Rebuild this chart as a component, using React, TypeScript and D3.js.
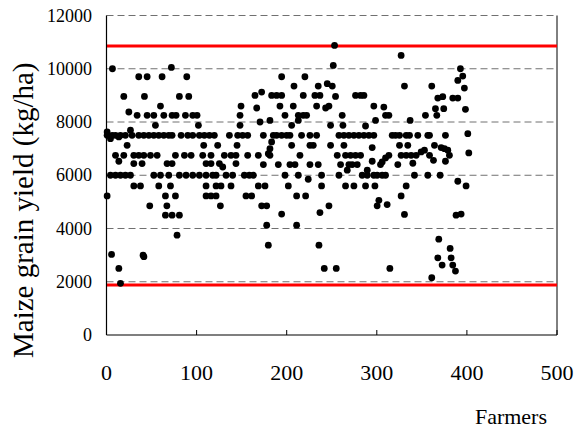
import React from "react";
import * as d3 from "d3";

// Farmer index (x) and maize grain yield in kg/ha (y)
const farmers: number[] = [
  6.6, 35.8, 45.1, 61.7, 72, 19.2, 42.1, 59.9, 24.8, 34, 45.1, 52.5, 63.6, 72.8, 54.3,
  0.7, 4.4, 6.3, 10, 13.7, 15.5, 21, 26.6, 28.4, 35.8, 41.4, 47, 52.5, 58, 63.6, 69.1, 72.8, 0.7,
  22.9, 10, 19.2, 30.3, 35.8, 41.4, 48.8, 56.2, 76.5, 13.7, 30.3, 39.5, 67.2, 72.8,
  4.4, 10, 15.5, 21, 26.6, 52.5, 59.9, 69.1, 30.3, 37.7, 58, 71, 0.7, 65.4, 76.5,
  48, 67, 65.4, 72.8, 78.3, 5.6, 40.6, 41.5, 13.7, 15.5,
  89.1, 80.9, 91.3, 149.3, 77.2, 87.6, 95.7, 100.5, 102, 148.2, 148.2,
  82.8, 90.2, 95.7, 103.1, 108.6, 114.2, 119.7, 136.4, 145.6, 151.1, 156.7,
  107.9, 123.4, 144.9, 86.5, 93.9, 106.8, 116, 130.8, 138.2, 143.7, 156.7,
  110.5, 116, 125.3, 129, 143.7, 80.9, 88.3, 95.7, 103.1, 110.5, 117.9, 121.6, 132.7, 140, 153, 158.5,
  110.5, 121.6, 127.1, 138.2, 110.5, 116, 121.6, 154.8, 126.4, 80.9,
  194.4, 220.2, 208.1, 235, 164.8, 172.2, 183.3, 188.8, 194.4, 218.4, 231.3, 236.9,
  166.7, 192.5, 207.3, 233.2, 198.1, 212.9, 218.4, 222.1, 170.4, 181.4, 205.5, 212.9,
  174.1, 185.1, 188.8, 194.4, 199.9, 203.6, 216.5, 225.8, 233.2,
  183.3, 205.5, 225.8, 229.5, 181.4, 179.6, 168.5, 181.4, 214.7,
  174.1, 190.7, 203.6, 209.2, 225.8, 235, 163, 198.1, 212.9, 223.9, 238.7,
  168.5, 175.9, 201.8, 238.7, 161.1, 211, 221, 172.2, 177.8, 194.4, 236.9, 177.8, 211, 179.6, 235.8, 241.7,
  253.1, 251.7, 245, 250.6, 254.2, 246.9, 243.2, 276.4, 282, 285.7, 296.7, 307.8,
  261.6, 309.7, 313.4, 298.6, 248.7, 262.4, 287.5,
  258, 263.5, 269, 274.6, 280.1, 285.7, 291.2, 296.7, 317.1, 320.8,
  248.7, 263.5, 294.9, 256.1, 265.3, 270.9, 276.4, 282, 313.4, 309.7, 306,
  259.8, 269, 272.7, 278.3, 294.9, 304.1, 267.2, 289.4,
  258, 283.8, 289.4, 296.7, 300.4, 306, 309.7, 265.3, 274.6, 287.5, 297.9,
  246.9, 302.3, 300.4, 311.5, 255, 314.5,
  327, 392.8, 389.9, 395.4, 330.7, 361, 397.2, 367.7, 373.2, 384.3, 389.9,
  365.1, 374.3, 398.4, 354, 366.6, 337,
  325.2, 332.6, 336.3, 345.5, 356.6, 358.5, 376.2, 401,
  325.2, 334.4, 364, 371.4, 375.1, 378.8,
  327, 332.6, 338.1, 343.7, 358.5, 380.6, 349.2, 352.9, 402.1,
  323.3, 340, 362.9, 376.2, 341.8, 356.6, 370.3, 389.9, 399.1, 332.6, 327,
  330.7, 388, 393.6, 368.8, 381.4, 367.7, 372.5, 382.5, 384.3, 387.3, 361,
];

const yields: number[] = [
  10000, 9700, 9700, 9700, 10050, 8960, 8960, 8600, 8375, 8250, 8250, 8250, 8250, 8250, 7875,
  7625, 7375, 7500, 7500, 7440, 7500, 7500, 7690, 7500, 7500, 7500, 7500, 7500, 7500, 7500, 7500, 7500, 7500,
  7125, 6750, 6750, 6750, 6750, 6750, 6750, 6750, 6750, 6525, 6440, 6440, 6440, 6440,
  6000, 6000, 6000, 6000, 6000, 6000, 6000, 6000, 5600, 5600, 5600, 5600, 5225, 5225, 5225,
  4850, 4850, 4500, 4500, 3750, 3025, 3000, 2940, 2500, 1940,
  9700, 8960, 8960, 8600, 8250, 8250, 8250, 8250, 7875, 8250, 7875,
  7500, 7500, 7500, 7500, 7500, 7500, 7500, 7500, 7500, 7500, 7500,
  7125, 7125, 7125, 6750, 6750, 6750, 6750, 6750, 6750, 6750, 6750,
  6440, 6440, 6440, 6310, 6440, 6000, 6000, 6000, 6000, 6000, 6000, 6000, 6000, 6000, 6000, 6000,
  5600, 5600, 5600, 5600, 5225, 5225, 5225, 5225, 4850, 4500,
  9700, 9700, 9350, 9350, 9000, 9125, 9000, 9000, 9000, 9000, 9000, 9000,
  8525, 8600, 8600, 8600, 8250, 8250, 8250, 8250, 8000, 8060, 7875, 8060,
  7500, 7500, 7500, 7500, 7500, 7500, 7500, 7500, 7500,
  7250, 7125, 7125, 7125, 7000, 6810, 6750, 6750, 6750,
  6400, 6400, 6400, 6400, 6400, 6400, 6000, 6000, 6000, 5850, 6000,
  5600, 5600, 5600, 5600, 5225, 5225, 5225, 4850, 4850, 4540, 4600, 4125, 4125, 3375, 3375, 2500,
  10875, 10125, 9440, 9350, 8960, 8600, 8525, 9000, 9000, 9000, 8600, 8560,
  8250, 8250, 8250, 8060, 7875, 7875, 7850,
  7500, 7500, 7500, 7500, 7500, 7500, 7500, 7500, 7500, 7500,
  7125, 7125, 7040, 6750, 6750, 6750, 6750, 6750, 6750, 6650, 6500,
  6400, 6400, 6400, 6400, 6525, 6400, 6190, 6190,
  6000, 6000, 6000, 6000, 6000, 6000, 6000, 5600, 5600, 5600, 5600,
  4850, 5060, 4850, 4900, 2500, 2500,
  10500, 10000, 9560, 9725, 9350, 9350, 9275, 8900, 8950, 8900, 8900,
  8500, 8500, 8475, 8250, 8250, 8060,
  7500, 7500, 7500, 7500, 7500, 7500, 7500, 7560,
  7125, 7125, 7125, 7040, 7000, 6940,
  6750, 6750, 6750, 6750, 6750, 6750, 6875, 6940, 6840,
  6400, 6450, 6560, 6525, 6000, 6000, 6000, 5775, 5600, 5600, 5225,
  4530, 4500, 4540, 3600, 3250, 2900, 2625, 2900, 2625, 2400, 2150,
];

const xTicks: number[] = [0, 100, 200, 300, 400, 500];
const yTicks: number[] = [0, 2000, 4000, 6000, 8000, 10000, 12000];
const gridValues: number[] = [2000, 4000, 6000, 8000, 10000, 12000];
const limitLines: number[] = [10850, 1875];

const W = 578;
const H = 429;
const FONT = "'Liberation Serif', 'Times New Roman', serif";

export default function App() {
  const x = d3.scaleLinear().domain([0, 500]).range([106.5, 557]);
  const y = d3.scaleLinear().domain([0, 12000]).range([335, 15.5]);
  const points = farmers.map((f, i) => ({ f, v: yields[i] }));

  return (
    <svg
      width={W}
      height={H}
      style={{ position: "absolute", left: 0, top: 0, background: "#fff" }}
    >
      <defs>
        <clipPath id="titleClip">
          <rect x={0} y={46} width={100} height={380} />
        </clipPath>
      </defs>
      <rect x={0} y={0} width={W} height={H} fill="#fff" />

      {/* gridlines */}
      {gridValues.map((g) => (
        <line
          key={"g" + g}
          x1={x(0)}
          x2={x(500)}
          y1={y(g)}
          y2={y(g)}
          stroke="#707070"
          strokeWidth={1}
          strokeDasharray="7 4"
        />
      ))}

      {/* right border */}
      <line x1={x(500)} x2={x(500)} y1={y(12000)} y2={y(0)} stroke="#000" strokeWidth={1} />

      {/* red limit lines */}
      {limitLines.map((l) => (
        <line
          key={"r" + l}
          x1={x(0)}
          x2={x(500)}
          y1={y(l)}
          y2={y(l)}
          stroke="#ff0000"
          strokeWidth={3}
        />
      ))}

      {/* points */}
      {points.map((p, i) => (
        <circle key={i} cx={x(p.f)} cy={y(p.v)} r={3.4} fill="#000" />
      ))}

      {/* axes */}
      <line x1={x(0)} x2={x(0)} y1={y(12000)} y2={y(0)} stroke="#000" strokeWidth={1.2} />
      <line x1={x(0)} x2={x(500)} y1={y(0)} y2={y(0)} stroke="#000" strokeWidth={1.2} />
      {xTicks.map((t) => (
        <line key={"xt" + t} x1={x(t)} x2={x(t)} y1={y(0)} y2={y(0) - 5} stroke="#000" strokeWidth={1} />
      ))}

      {/* y tick labels */}
      {yTicks.map((t) => (
        <text
          key={"yl" + t}
          x={92}
          y={y(t) + 6}
          textAnchor="end"
          fontFamily={FONT}
          fontSize={18}
          fill="#000"
        >
          {t}
        </text>
      ))}

      {/* x tick labels */}
      {xTicks.map((t) => (
        <text
          key={"xl" + t}
          x={x(t)}
          y={380}
          textAnchor="middle"
          fontFamily={FONT}
          fontSize={22}
          fill="#000"
        >
          {t}
        </text>
      ))}

      <text x={547} y={424} textAnchor="end" fontFamily={FONT} fontSize={22} fill="#000">
        Farmers
      </text>

      <g clipPath="url(#titleClip)">
        <text
          transform="translate(33,358) rotate(-90)"
          textAnchor="start"
          fontFamily={FONT}
          fontSize={29}
          fill="#000"
        >
          Maize grain yield (kg/ha)
        </text>
      </g>
    </svg>
  );
}
